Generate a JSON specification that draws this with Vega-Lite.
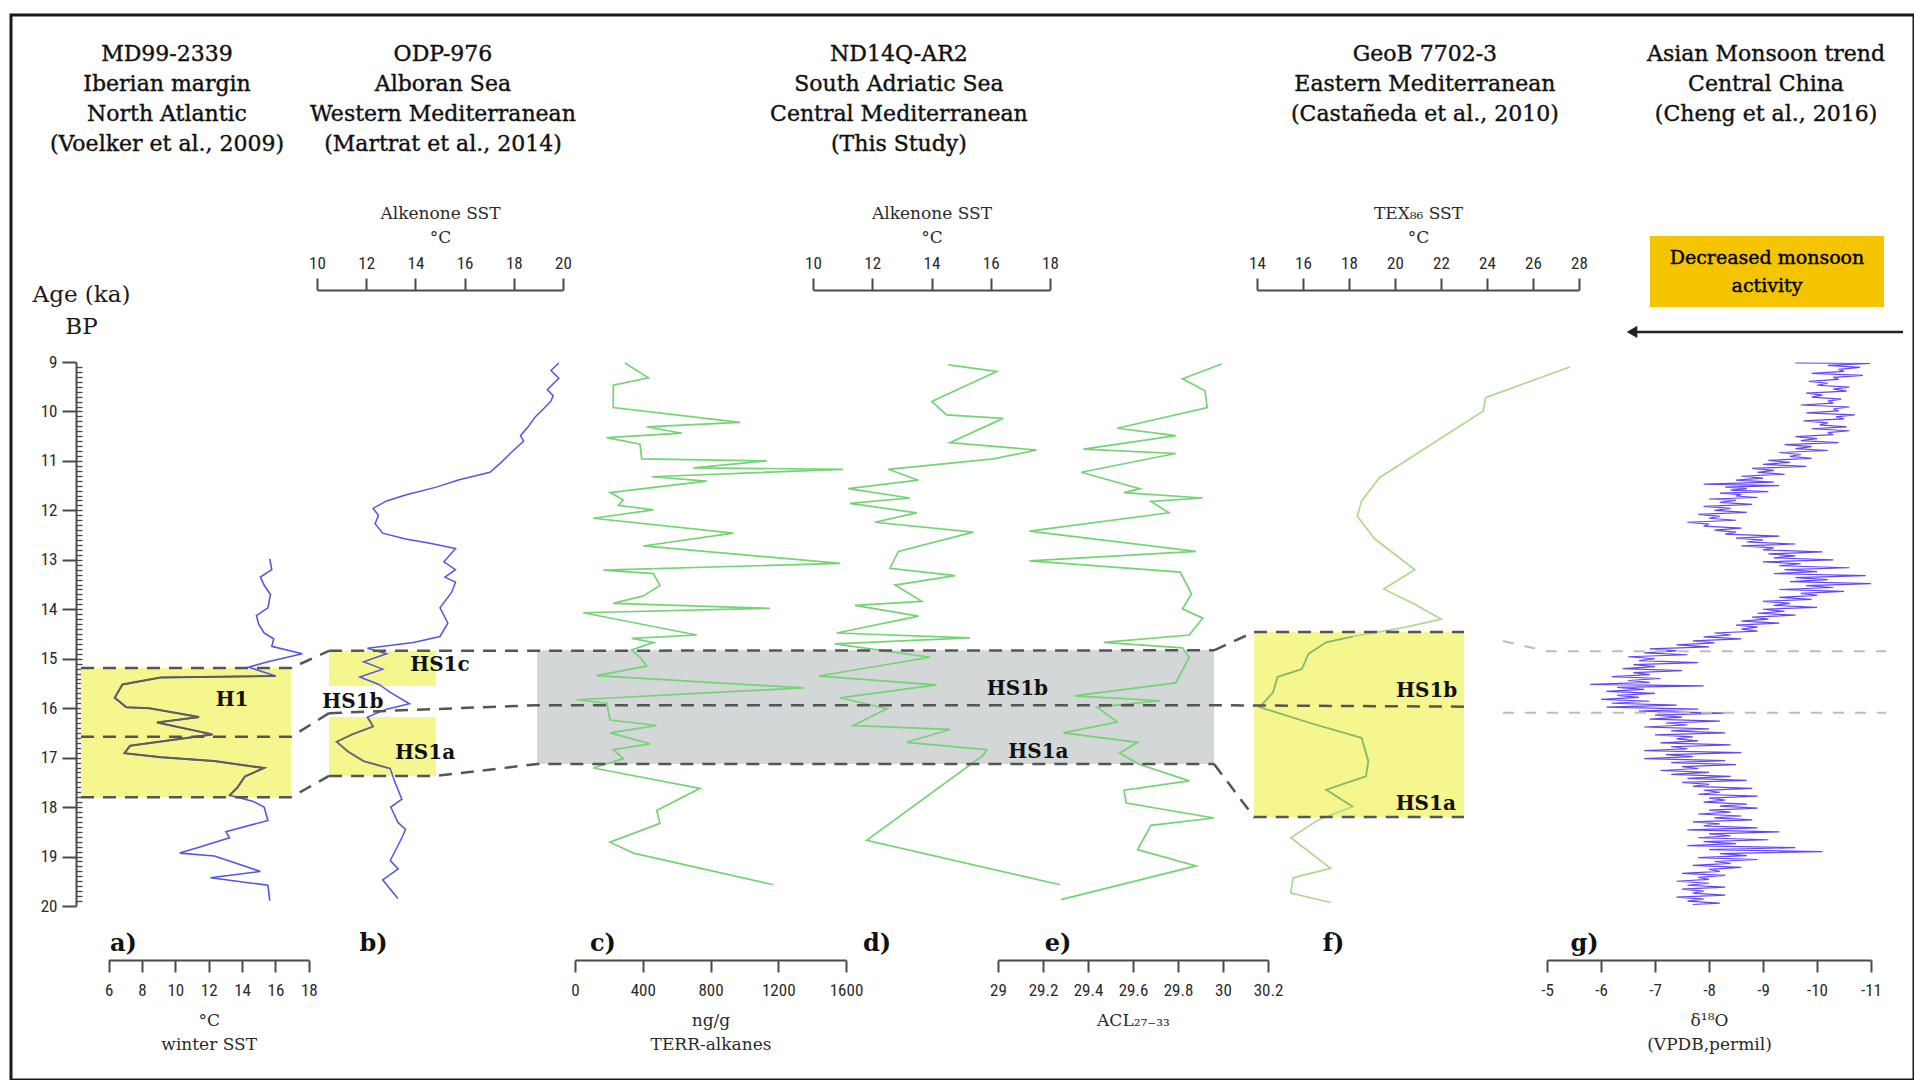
{
"$schema": "https://vega.github.io/schema/vega-lite/v6.json",
"width": 1903, "height": 1065,
"autosize": {"type": "none"},
"padding": {"left": 11, "top": 15, "right": 0, "bottom": 0},
"background": "white",
"config": {
  "view": {"stroke": "#1a1a1a", "strokeWidth": 3},
  "axis": {"domainColor": "#4a4a4a", "domainWidth": 2, "tickColor": "#4a4a4a", "tickWidth": 2, "tickSize": 12,
    "labelFont": "Liberation Sans Narrow, Roboto Condensed, Roboto, sans-serif", "labelFontSize": 17, "labelColor": "#2a2a2a", "labelPadding": 10,
    "labelFlush": false, "labelOverlap": false, "labelBound": false,
    "titleFont": "DejaVu Serif", "titleFontSize": 17, "titleFontWeight": "normal", "titleColor": "#2a2a2a", "titlePadding": 14, "titleLineHeight": 24, "grid": false},
  "axisTop": {"labelPadding": 6, "titlePadding": 8}
},
"datasets": {
  "boxA": [{"v": 4.345, "v2": 16.935, "age": 15.19, "age2": 17.8}],
  "boxB": [{"v": 10.488, "v2": 14.837, "age": 14.84, "age2": 15.55}, {"v": 10.488, "v2": 14.837, "age": 16.18, "age2": 17.37}],
  "boxC": [{"v": -224, "v2": 3773, "age": 14.83, "age2": 17.13}],
  "boxF": [{"v": 13.87, "v2": 23.0, "age": 14.46, "age2": 18.2}],
  "boxG": [{"v": -6.907, "v2": -11.241, "age": 6.452, "age2": 7.888}],
  "sstA": [{"v":15.66,"age":12.98},{"v":15.78,"age":13.2},{"v":15.1,"age":13.35},{"v":15.32,"age":13.51},{"v":15.7,"age":13.7},{"v":15.55,"age":13.97},{"v":14.86,"age":14.13},{"v":15.0,"age":14.3},{"v":15.32,"age":14.48},{"v":15.9,"age":14.6},{"v":15.78,"age":14.75},{"v":17.61,"age":14.9},{"v":15.55,"age":15.06},{"v":14.4,"age":15.17},{"v":16.01,"age":15.35},{"v":9.12,"age":15.38},{"v":6.83,"age":15.52},{"v":6.37,"age":15.79},{"v":7.06,"age":15.98},{"v":8.44,"age":16.0},{"v":11.42,"age":16.18},{"v":8.9,"age":16.29},{"v":12.22,"age":16.53},{"v":7.29,"age":16.76},{"v":6.95,"age":16.91},{"v":9.12,"age":16.99},{"v":12.34,"age":17.07},{"v":15.32,"age":17.21},{"v":14.17,"age":17.38},{"v":13.71,"age":17.61},{"v":13.25,"age":17.76},{"v":14.63,"age":17.88},{"v":15.32,"age":18.0},{"v":15.55,"age":18.27},{"v":13.03,"age":18.5},{"v":13.25,"age":18.62},{"v":11.42,"age":18.81},{"v":10.27,"age":18.93},{"v":12.34,"age":18.99},{"v":15.09,"age":19.3},{"v":12.11,"age":19.43},{"v":15.55,"age":19.58},{"v":15.66,"age":19.89}],
  "sstB": [{"v":19.83,"age":9.02},{"v":19.51,"age":9.17},{"v":19.83,"age":9.33},{"v":19.36,"age":9.56},{"v":19.6,"age":9.68},{"v":19.51,"age":9.79},{"v":19.2,"age":9.95},{"v":18.89,"age":10.1},{"v":18.6,"age":10.3},{"v":18.27,"age":10.49},{"v":18.4,"age":10.6},{"v":17.96,"age":10.8},{"v":17.49,"age":11.03},{"v":17.03,"age":11.23},{"v":15.78,"age":11.38},{"v":14.85,"age":11.53},{"v":13.6,"age":11.69},{"v":12.83,"age":11.81},{"v":12.28,"age":11.96},{"v":12.5,"age":12.1},{"v":12.36,"age":12.27},{"v":12.67,"age":12.46},{"v":13.6,"age":12.58},{"v":14.54,"age":12.66},{"v":15.63,"age":12.77},{"v":15.16,"age":13.04},{"v":15.63,"age":13.2},{"v":15.2,"age":13.35},{"v":15.63,"age":13.45},{"v":15.47,"age":13.66},{"v":15.0,"age":13.97},{"v":15.32,"age":14.28},{"v":15.0,"age":14.55},{"v":13.92,"age":14.67},{"v":12.05,"age":14.79},{"v":12.83,"age":14.9},{"v":11.89,"age":15.06},{"v":12.67,"age":15.21},{"v":11.74,"age":15.37},{"v":12.52,"age":15.52},{"v":12.98,"age":15.68},{"v":13.76,"age":15.91},{"v":12.83,"age":16.02},{"v":12.05,"age":16.18},{"v":12.28,"age":16.37},{"v":11.43,"age":16.53},{"v":10.8,"age":16.68},{"v":11.27,"age":16.88},{"v":11.89,"age":17.07},{"v":12.98,"age":17.22},{"v":13.14,"age":17.46},{"v":13.45,"age":17.84},{"v":13.0,"age":18.0},{"v":13.29,"age":18.31},{"v":13.6,"age":18.45},{"v":13.45,"age":18.62},{"v":12.98,"age":19.08},{"v":13.3,"age":19.25},{"v":12.67,"age":19.47},{"v":13.29,"age":19.85}],
  "terrC": [{"v":295,"age":9.02},{"v":433,"age":9.32},{"v":226,"age":9.47},{"v":226,"age":9.92},{"v":974,"age":10.22},{"v":423,"age":10.31},{"v":630,"age":10.44},{"v":187,"age":10.53},{"v":384,"age":10.66},{"v":394,"age":10.96},{"v":1132,"age":11.0},{"v":699,"age":11.14},{"v":1584,"age":11.17},{"v":453,"age":11.32},{"v":777,"age":11.41},{"v":207,"age":11.64},{"v":285,"age":11.79},{"v":256,"age":11.9},{"v":463,"age":11.99},{"v":108,"age":12.16},{"v":935,"age":12.46},{"v":403,"age":12.72},{"v":1565,"age":13.07},{"v":167,"age":13.21},{"v":463,"age":13.28},{"v":502,"age":13.52},{"v":403,"age":13.73},{"v":226,"age":13.88},{"v":1151,"age":13.98},{"v":49,"age":14.07},{"v":718,"age":14.52},{"v":335,"age":14.59},{"v":463,"age":14.67},{"v":335,"age":14.82},{"v":384,"age":14.97},{"v":423,"age":15.15},{"v":128,"age":15.34},{"v":1348,"age":15.59},{"v":10,"age":15.83},{"v":187,"age":15.9},{"v":207,"age":16.24},{"v":482,"age":16.35},{"v":207,"age":16.5},{"v":443,"age":16.72},{"v":226,"age":16.84},{"v":285,"age":17.02},{"v":108,"age":17.21},{"v":738,"age":17.62},{"v":482,"age":18.07},{"v":502,"age":18.33},{"v":207,"age":18.71},{"v":344,"age":18.93},{"v":1171,"age":19.57}],
  "sstD": [{"v":14.57,"age":9.06},{"v":16.2,"age":9.19},{"v":14.01,"age":9.8},{"v":14.51,"age":10.07},{"v":16.42,"age":10.14},{"v":14.62,"age":10.63},{"v":17.55,"age":10.78},{"v":16.09,"age":10.96},{"v":12.54,"age":11.17},{"v":13.56,"age":11.39},{"v":11.19,"age":11.56},{"v":13.27,"age":11.75},{"v":11.25,"age":11.86},{"v":13.5,"age":12.05},{"v":12.09,"age":12.24},{"v":15.41,"age":12.44},{"v":12.88,"age":12.83},{"v":12.6,"age":13.17},{"v":14.79,"age":13.32},{"v":12.77,"age":13.51},{"v":13.67,"age":13.84},{"v":11.42,"age":13.92},{"v":13.56,"age":14.14},{"v":10.8,"age":14.48},{"v":15.3,"age":14.58},{"v":10.74,"age":14.7},{"v":13.95,"age":14.97},{"v":10.2,"age":15.35},{"v":14.17,"age":15.53},{"v":10.91,"age":15.79},{"v":12.49,"age":16.01},{"v":11.36,"age":16.35},{"v":14.62,"age":16.43},{"v":13.16,"age":16.69},{"v":15.86,"age":16.84},{"v":15.75,"age":16.95},{"v":11.81,"age":18.67},{"v":18.34,"age":19.57}],
  "aclE": [{"v":29.994,"age":9.04},{"v":29.82,"age":9.34},{"v":29.92,"age":9.58},{"v":29.93,"age":9.92},{"v":29.53,"age":10.34},{"v":29.79,"age":10.49},{"v":29.38,"age":10.76},{"v":29.79,"age":10.85},{"v":29.37,"age":11.23},{"v":29.63,"age":11.56},{"v":29.56,"age":11.64},{"v":29.91,"age":11.75},{"v":29.68,"age":11.82},{"v":29.76,"age":12.05},{"v":29.14,"age":12.42},{"v":29.88,"age":12.83},{"v":29.14,"age":13.02},{"v":29.81,"age":13.25},{"v":29.86,"age":13.69},{"v":29.82,"age":13.99},{"v":29.91,"age":14.18},{"v":29.85,"age":14.52},{"v":29.47,"age":14.67},{"v":29.82,"age":14.78},{"v":29.85,"age":14.97},{"v":29.79,"age":15.49},{"v":29.34,"age":15.75},{"v":29.72,"age":15.85},{"v":29.44,"age":15.98},{"v":29.53,"age":16.28},{"v":29.29,"age":16.5},{"v":29.62,"age":16.69},{"v":29.54,"age":16.91},{"v":29.63,"age":17.14},{"v":29.85,"age":17.47},{"v":29.56,"age":17.66},{"v":29.57,"age":17.92},{"v":29.96,"age":18.22},{"v":29.68,"age":18.37},{"v":29.62,"age":18.86},{"v":29.88,"age":19.19},{"v":29.28,"age":19.87}],
  "texF": [{"v":27.6,"age":9.1},{"v":23.94,"age":9.72},{"v":23.84,"age":9.99},{"v":20.86,"age":10.88},{"v":19.32,"age":11.34},{"v":18.55,"age":11.81},{"v":18.36,"age":12.12},{"v":19.13,"age":12.58},{"v":20.86,"age":13.2},{"v":19.51,"age":13.59},{"v":20.86,"age":13.9},{"v":22.01,"age":14.2},{"v":20.47,"age":14.36},{"v":18.16,"age":14.55},{"v":17.01,"age":14.67},{"v":16.24,"age":14.9},{"v":15.95,"age":15.21},{"v":14.89,"age":15.37},{"v":14.7,"age":15.68},{"v":14.12,"age":15.98},{"v":16.24,"age":16.29},{"v":18.55,"age":16.6},{"v":18.84,"age":17.07},{"v":18.74,"age":17.38},{"v":17.01,"age":17.65},{"v":18.16,"age":17.99},{"v":16.62,"age":18.27},{"v":15.47,"age":18.62},{"v":17.2,"age":19.24},{"v":15.57,"age":19.43},{"v":15.47,"age":19.74},{"v":17.2,"age":19.93}],
  "d18G": [{"age":9.02,"v":-9.6},{"age":9.03,"v":-10.98},{"age":9.07,"v":-10.2},{"age":9.11,"v":-10.8},{"age":9.15,"v":-10.4},{"age":9.19,"v":-10.5},{"age":9.23,"v":-9.9},{"age":9.27,"v":-10.85},{"age":9.31,"v":-10.3},{"age":9.35,"v":-10.4},{"age":9.39,"v":-9.85},{"age":9.43,"v":-10.2},{"age":9.47,"v":-10.0},{"age":9.51,"v":-10.6},{"age":9.55,"v":-10.3},{"age":9.59,"v":-10.55},{"age":9.63,"v":-9.8},{"age":9.67,"v":-10.1},{"age":9.71,"v":-9.9},{"age":9.75,"v":-10.45},{"age":9.79,"v":-10.2},{"age":9.83,"v":-10.3},{"age":9.87,"v":-9.7},{"age":9.91,"v":-10.6},{"age":9.95,"v":-10.3},{"age":9.99,"v":-10.4},{"age":10.03,"v":-9.8},{"age":10.07,"v":-10.7},{"age":10.11,"v":-10.35},{"age":10.15,"v":-10.5},{"age":10.19,"v":-9.75},{"age":10.23,"v":-10.2},{"age":10.27,"v":-10.05},{"age":10.31,"v":-10.55},{"age":10.35,"v":-9.9},{"age":10.39,"v":-10.6},{"age":10.43,"v":-10.2},{"age":10.47,"v":-10.3},{"age":10.51,"v":-9.6},{"age":10.55,"v":-10.0},{"age":10.59,"v":-9.7},{"age":10.63,"v":-10.4},{"age":10.67,"v":-9.4},{"age":10.71,"v":-9.9},{"age":10.75,"v":-9.6},{"age":10.79,"v":-10.2},{"age":10.83,"v":-9.3},{"age":10.87,"v":-9.7},{"age":10.91,"v":-9.5},{"age":10.95,"v":-9.9},{"age":10.99,"v":-9.1},{"age":11.03,"v":-9.5},{"age":11.07,"v":-9.0},{"age":11.11,"v":-9.8},{"age":11.15,"v":-8.8},{"age":11.19,"v":-9.2},{"age":11.23,"v":-8.9},{"age":11.27,"v":-9.4},{"age":11.31,"v":-8.6},{"age":11.35,"v":-9.0},{"age":11.39,"v":-8.5},{"age":11.43,"v":-9.2},{"age":11.47,"v":-7.9},{"age":11.5,"v":-9.3},{"age":11.53,"v":-8.3},{"age":11.56,"v":-8.7},{"age":11.59,"v":-8.4},{"age":11.62,"v":-9.1},{"age":11.65,"v":-8.2},{"age":11.68,"v":-8.6},{"age":11.71,"v":-8.5},{"age":11.74,"v":-8.9},{"age":11.77,"v":-8.0},{"age":11.8,"v":-8.5},{"age":11.84,"v":-8.2},{"age":11.88,"v":-8.8},{"age":11.92,"v":-7.9},{"age":11.96,"v":-8.4},{"age":12.0,"v":-8.1},{"age":12.04,"v":-8.7},{"age":12.08,"v":-7.8},{"age":12.12,"v":-8.2},{"age":12.16,"v":-8.0},{"age":12.2,"v":-8.5},{"age":12.24,"v":-7.6},{"age":12.28,"v":-8.0},{"age":12.32,"v":-7.9},{"age":12.36,"v":-8.6},{"age":12.4,"v":-8.1},{"age":12.44,"v":-8.5},{"age":12.48,"v":-8.3},{"age":12.52,"v":-9.3},{"age":12.56,"v":-8.5},{"age":12.6,"v":-9.0},{"age":12.64,"v":-8.7},{"age":12.68,"v":-9.6},{"age":12.72,"v":-8.6},{"age":12.76,"v":-9.2},{"age":12.8,"v":-9.0},{"age":12.84,"v":-10.1},{"age":12.88,"v":-9.1},{"age":12.92,"v":-9.6},{"age":12.96,"v":-9.2},{"age":13.0,"v":-10.3},{"age":13.04,"v":-9.0},{"age":13.08,"v":-9.7},{"age":13.12,"v":-9.3},{"age":13.16,"v":-10.6},{"age":13.2,"v":-9.4},{"age":13.24,"v":-10.0},{"age":13.28,"v":-9.2},{"age":13.32,"v":-10.9},{"age":13.36,"v":-9.6},{"age":13.4,"v":-10.2},{"age":13.44,"v":-9.5},{"age":13.48,"v":-11.0},{"age":13.52,"v":-9.8},{"age":13.56,"v":-10.3},{"age":13.6,"v":-9.3},{"age":13.64,"v":-10.5},{"age":13.68,"v":-9.7},{"age":13.72,"v":-10.0},{"age":13.76,"v":-9.3},{"age":13.8,"v":-9.9},{"age":13.84,"v":-9.0},{"age":13.88,"v":-9.5},{"age":13.92,"v":-9.2},{"age":13.96,"v":-10.0},{"age":14.0,"v":-9.0},{"age":14.04,"v":-9.4},{"age":14.08,"v":-8.9},{"age":14.12,"v":-9.6},{"age":14.16,"v":-8.8},{"age":14.2,"v":-9.1},{"age":14.24,"v":-8.6},{"age":14.28,"v":-9.3},{"age":14.32,"v":-8.5},{"age":14.36,"v":-8.9},{"age":14.4,"v":-8.6},{"age":14.44,"v":-8.9},{"age":14.48,"v":-8.1},{"age":14.52,"v":-8.4},{"age":14.56,"v":-7.9},{"age":14.6,"v":-8.6},{"age":14.64,"v":-7.7},{"age":14.68,"v":-8.1},{"age":14.72,"v":-7.4},{"age":14.76,"v":-8.0},{"age":14.8,"v":-6.9},{"age":14.84,"v":-7.4},{"age":14.88,"v":-6.8},{"age":14.92,"v":-7.6},{"age":14.96,"v":-6.5},{"age":15.0,"v":-7.0},{"age":15.04,"v":-6.7},{"age":15.08,"v":-7.8},{"age":15.12,"v":-6.6},{"age":15.16,"v":-7.0},{"age":15.2,"v":-6.4},{"age":15.24,"v":-7.5},{"age":15.28,"v":-6.6},{"age":15.32,"v":-6.9},{"age":15.36,"v":-6.2},{"age":15.4,"v":-7.1},{"age":15.44,"v":-6.5},{"age":15.48,"v":-6.9},{"age":15.52,"v":-5.8},{"age":15.55,"v":-7.9},{"age":15.58,"v":-6.3},{"age":15.62,"v":-6.8},{"age":15.66,"v":-6.1},{"age":15.7,"v":-7.0},{"age":15.74,"v":-6.3},{"age":15.78,"v":-6.7},{"age":15.82,"v":-6.0},{"age":15.86,"v":-6.9},{"age":15.9,"v":-6.2},{"age":15.94,"v":-7.4},{"age":15.98,"v":-6.1},{"age":16.02,"v":-7.8},{"age":16.06,"v":-6.7},{"age":16.1,"v":-8.3},{"age":16.14,"v":-7.0},{"age":16.18,"v":-7.5},{"age":16.22,"v":-6.9},{"age":16.26,"v":-8.2},{"age":16.3,"v":-7.2},{"age":16.34,"v":-7.6},{"age":16.38,"v":-6.8},{"age":16.42,"v":-8.0},{"age":16.46,"v":-7.3},{"age":16.5,"v":-8.3},{"age":16.54,"v":-7.0},{"age":16.58,"v":-7.7},{"age":16.62,"v":-7.4},{"age":16.66,"v":-7.8},{"age":16.7,"v":-7.1},{"age":16.74,"v":-8.4},{"age":16.78,"v":-7.3},{"age":16.82,"v":-7.6},{"age":16.86,"v":-6.8},{"age":16.9,"v":-8.6},{"age":16.94,"v":-7.2},{"age":16.98,"v":-7.7},{"age":17.02,"v":-6.8},{"age":17.06,"v":-8.3},{"age":17.1,"v":-7.3},{"age":17.14,"v":-8.5},{"age":17.18,"v":-7.5},{"age":17.22,"v":-7.8},{"age":17.26,"v":-7.1},{"age":17.3,"v":-8.0},{"age":17.34,"v":-7.3},{"age":17.38,"v":-8.4},{"age":17.42,"v":-7.6},{"age":17.46,"v":-8.7},{"age":17.5,"v":-7.5},{"age":17.54,"v":-8.0},{"age":17.58,"v":-7.7},{"age":17.62,"v":-8.8},{"age":17.66,"v":-7.9},{"age":17.7,"v":-8.2},{"age":17.74,"v":-7.8},{"age":17.78,"v":-8.9},{"age":17.82,"v":-8.0},{"age":17.86,"v":-8.3},{"age":17.9,"v":-7.9},{"age":17.94,"v":-8.7},{"age":17.98,"v":-8.2},{"age":18.02,"v":-8.9},{"age":18.06,"v":-8.0},{"age":18.1,"v":-8.4},{"age":18.14,"v":-7.8},{"age":18.18,"v":-8.6},{"age":18.22,"v":-8.1},{"age":18.26,"v":-8.8},{"age":18.3,"v":-7.7},{"age":18.34,"v":-8.2},{"age":18.38,"v":-7.9},{"age":18.42,"v":-8.9},{"age":18.46,"v":-7.6},{"age":18.5,"v":-9.3},{"age":18.54,"v":-8.0},{"age":18.58,"v":-8.4},{"age":18.62,"v":-7.8},{"age":18.66,"v":-9.1},{"age":18.7,"v":-7.9},{"age":18.74,"v":-8.5},{"age":18.78,"v":-7.6},{"age":18.82,"v":-9.6},{"age":18.86,"v":-8.0},{"age":18.9,"v":-10.1},{"age":18.94,"v":-8.2},{"age":18.98,"v":-8.7},{"age":19.02,"v":-7.8},{"age":19.06,"v":-8.9},{"age":19.1,"v":-8.1},{"age":19.14,"v":-8.4},{"age":19.18,"v":-7.7},{"age":19.22,"v":-8.6},{"age":19.26,"v":-8.0},{"age":19.3,"v":-8.2},{"age":19.34,"v":-7.5},{"age":19.38,"v":-8.3},{"age":19.42,"v":-7.8},{"age":19.46,"v":-8.0},{"age":19.5,"v":-7.4},{"age":19.54,"v":-8.0},{"age":19.58,"v":-7.6},{"age":19.62,"v":-8.3},{"age":19.66,"v":-7.5},{"age":19.7,"v":-7.9},{"age":19.74,"v":-7.7},{"age":19.78,"v":-8.3},{"age":19.82,"v":-7.4},{"age":19.86,"v":-7.9},{"age":19.9,"v":-7.6},{"age":19.94,"v":-8.2},{"age":19.97,"v":-7.7}],
  "dashA": [{"seg":"top","v":4.345,"age":15.19},{"seg":"top","v":16.935,"age":15.19},{"seg":"top","v":19.213,"age":14.84},{"seg":"mid","v":4.345,"age":16.58},{"seg":"mid","v":16.935,"age":16.58},{"seg":"mid","v":19.213,"age":16.1},{"seg":"bot","v":4.345,"age":17.8},{"seg":"bot","v":16.935,"age":17.8},{"seg":"bot","v":19.213,"age":17.37}],
  "dashC": [{"seg":"top","v":-1452,"age":14.84},{"seg":"top","v":3773,"age":14.83},{"seg":"mid","v":-1452,"age":16.1},{"seg":"mid","v":-224,"age":15.94},{"seg":"mid","v":3773,"age":15.94},{"seg":"mid","v":5249,"age":15.97},{"seg":"bot","v":-1452,"age":17.37},{"seg":"bot","v":-821,"age":17.37},{"seg":"bot","v":-224,"age":17.13},{"seg":"bot","v":3773,"age":17.13},{"seg":"ftop","v":3773,"age":14.83},{"seg":"ftop","v":4009,"age":14.46},{"seg":"ftop","v":5249,"age":14.46},{"seg":"fbot","v":3773,"age":17.13},{"seg":"fbot","v":4009,"age":18.2},{"seg":"fbot","v":5249,"age":18.2}],
  "dashG": [{"seg":"up","v":-4.185,"age":14.64},{"seg":"up","v":-5.0,"age":14.85},{"seg":"up","v":-11.278,"age":14.85},{"seg":"lo","v":-4.185,"age":16.09},{"seg":"lo","v":-11.278,"age":16.09}],
  "arrowG": [{"v":-6.648,"v2":-11.593,"age":8.393}],
  "arrowHead": [{"v":-6.574,"age":8.393}],
  "hdrA": [{"label":"MD99-2339\nIberian margin\nNorth Atlantic\n(Voelker et al., 2009)","v":9.5,"age":2.575}],
  "hdrB": [{"label":"ODP-976\nAlboran Sea\nWestern Mediterranean\n(Martrat et al., 2014)","v":15.12,"age":2.575}],
  "hdrD": [{"label":"ND14Q-AR2\nSouth Adriatic Sea\nCentral Mediterranean\n(This Study)","v":12.9,"age":2.575}],
  "hdrF": [{"label":"GeoB 7702-3\nEastern Mediterranean\n(Castañeda et al., 2010)","v":21.3,"age":2.575}],
  "hdrG": [{"label":"Asian Monsoon trend\nCentral China\n(Cheng et al., 2016)","v":-9.056,"age":2.575}],
  "hsA": [{"label":"H1","v":13.4,"age":15.83}],
  "hsB": [{"label":"HS1c","v":15.0,"age":15.13},{"label":"HS1b","v":11.46,"age":15.87},{"label":"HS1a","v":14.39,"age":16.91}],
  "hsD": [{"label":"HS1b","v":16.9,"age":15.62},{"label":"HS1a","v":17.61,"age":16.89}],
  "hsF": [{"label":"HS1b","v":21.38,"age":15.65},{"label":"HS1a","v":21.34,"age":17.93}],
  "letA": [{"label":"a)","v":6.89,"age":20.77}],
  "letB": [{"label":"b)","v":12.3,"age":20.77}],
  "letC": [{"label":"c)","v":165,"age":20.77}],
  "letD": [{"label":"d)","v":12.16,"age":20.77}],
  "letE": [{"label":"e)","v":29.267,"age":20.77}],
  "letF": [{"label":"f)","v":17.33,"age":20.77}],
  "letG": [{"label":"g)","v":-5.694,"age":20.77}],
  "goldTxt": [{"label":"Decreased monsoon\nactivity","v":-9.074,"age":6.715}]
},
"encoding": {"y": {"field": "age", "type": "quantitative", "scale": {"domain": [9, 20], "range": [347, 891], "nice": false, "zero": false}, "axis": null}},
"resolve": {"scale": {"x": "independent"}, "axis": {"x": "independent", "y": "independent"}},
"layer": [
  {"data": {"name": "boxA"}, "mark": {"type": "rect", "fill": "#f6f68f"},
   "encoding": {"x": {"field": "v", "type": "quantitative", "scale": {"domain": [6, 18], "range": [97.6, 297.8], "nice": false, "zero": false}, "axis": null}, "x2": {"field": "v2"}, "y2": {"field": "age2"}}},
  {"data": {"name": "boxB"}, "mark": {"type": "rect", "fill": "#f6f68f"},
   "encoding": {"x": {"field": "v", "type": "quantitative", "scale": {"domain": [10, 20], "range": [306, 552], "nice": false, "zero": false}, "axis": null}, "x2": {"field": "v2"},
     "y": {"field": "age", "type": "quantitative", "scale": {"domain": [9, 20], "range": [347, 891], "nice": false, "zero": false},
       "axis": {"orient": "right", "offset": -1838, "domain": false, "labels": false, "title": null, "tickSize": 6, "tickWidth": 1.3, "tickColor": "#444",
         "values": [9.1,9.2,9.3,9.4,9.5,9.6,9.7,9.8,9.9,10,10.1,10.2,10.3,10.4,10.5,10.6,10.7,10.8,10.9,11,11.1,11.2,11.3,11.4,11.5,11.6,11.7,11.8,11.9,12,12.1,12.2,12.3,12.4,12.5,12.6,12.7,12.8,12.9,13,13.1,13.2,13.3,13.4,13.5,13.6,13.7,13.8,13.9,14,14.1,14.2,14.3,14.4,14.5,14.6,14.7,14.8,14.9,15,15.1,15.2,15.3,15.4,15.5,15.6,15.7,15.8,15.9,16,16.1,16.2,16.3,16.4,16.5,16.6,16.7,16.8,16.9,17,17.1,17.2,17.3,17.4,17.5,17.6,17.7,17.8,17.9,18,18.1,18.2,18.3,18.4,18.5,18.6,18.7,18.8,18.9,19,19.1,19.2,19.3,19.4,19.5,19.6,19.7,19.8,19.9]}},
     "y2": {"field": "age2"}}},
  {"data": {"name": "boxC"}, "mark": {"type": "rect", "fill": "#d3d7d7"},
   "encoding": {"x": {"field": "v", "type": "quantitative", "scale": {"domain": [0, 1600], "range": [564, 835], "nice": false, "zero": false}, "axis": null}, "x2": {"field": "v2"}, "y2": {"field": "age2"}}},
  {"data": {"name": "boxF"}, "mark": {"type": "rect", "fill": "#f6f68f"},
   "encoding": {"x": {"field": "v", "type": "quantitative", "scale": {"domain": [14, 28], "range": [1246, 1568], "nice": false, "zero": false}, "axis": null}, "x2": {"field": "v2"}, "y2": {"field": "age2"}}},
  {"data": {"name": "boxG"}, "mark": {"type": "rect", "fill": "#f5c400"},
   "encoding": {"x": {"field": "v", "type": "quantitative", "scale": {"domain": [-5, -11], "range": [1536, 1860], "nice": false, "zero": false}, "axis": null}, "x2": {"field": "v2"}, "y2": {"field": "age2"}}},

  {"data": {"name": "sstA"}, "mark": {"type": "line", "color": "#5656e0", "strokeWidth": 1.6},
   "encoding": {"x": {"field": "v", "type": "quantitative", "scale": {"domain": [6, 18], "range": [97.6, 297.8], "nice": false, "zero": false},
       "axis": {"orient": "bottom", "offset": -120, "values": [6, 8, 10, 12, 14, 16, 18], "title": ["°C", "winter SST"]}},
     "y": {"field": "age", "type": "quantitative", "scale": {"domain": [9, 20], "range": [347, 891], "nice": false, "zero": false},
       "axis": {"orient": "left", "offset": -65, "values": [9, 10, 11, 12, 13, 14, 15, 16, 17, 18, 19, 20], "format": "d", "tickSize": 14, "labelPadding": 5,
         "title": ["Age (ka)", "BP"], "titleAngle": 0, "titleAlign": "center", "titleBaseline": "top", "titleX": 5, "titleY": 268,
         "titleFont": "DejaVu Serif", "titleFontSize": 23, "titleLineHeight": 32, "titleColor": "#1a1a1a"}},
     "order": {"field": "age", "type": "quantitative"}}},
  {"data": {"name": "sstA"}, "transform": [{"filter": {"field": "age", "range": [15.19, 17.8]}}],
   "mark": {"type": "line", "color": "#5e5e5e", "strokeWidth": 2},
   "encoding": {"x": {"field": "v", "type": "quantitative", "scale": {"domain": [6, 18], "range": [97.6, 297.8], "nice": false, "zero": false}, "axis": null},
     "order": {"field": "age", "type": "quantitative"}}},
  {"data": {"name": "sstB"}, "mark": {"type": "line", "color": "#5656e0", "strokeWidth": 1.5},
   "encoding": {"x": {"field": "v", "type": "quantitative", "scale": {"domain": [10, 20], "range": [306, 552], "nice": false, "zero": false},
       "axis": {"orient": "top", "offset": -275, "values": [10, 12, 14, 16, 18, 20], "title": ["Alkenone SST", "°C"]}},
     "order": {"field": "age", "type": "quantitative"}}},
  {"data": {"name": "sstB"}, "transform": [{"filter": {"field": "age", "range": [16.18, 17.37]}}],
   "mark": {"type": "line", "color": "#6d6d6d", "strokeWidth": 1.8},
   "encoding": {"x": {"field": "v", "type": "quantitative", "scale": {"domain": [10, 20], "range": [306, 552], "nice": false, "zero": false}, "axis": null},
     "order": {"field": "age", "type": "quantitative"}}},
  {"data": {"name": "terrC"}, "mark": {"type": "line", "color": "#74d374", "strokeWidth": 1.7},
   "encoding": {"x": {"field": "v", "type": "quantitative", "scale": {"domain": [0, 1600], "range": [564, 835], "nice": false, "zero": false},
       "axis": {"orient": "bottom", "offset": -120, "values": [0, 400, 800, 1200, 1600], "format": "d", "title": ["ng/g", "TERR-alkanes"]}},
     "order": {"field": "age", "type": "quantitative"}}},
  {"data": {"name": "sstD"}, "mark": {"type": "line", "color": "#74d374", "strokeWidth": 1.7},
   "encoding": {"x": {"field": "v", "type": "quantitative", "scale": {"domain": [10, 18], "range": [802, 1039], "nice": false, "zero": false},
       "axis": {"orient": "top", "offset": -275, "values": [10, 12, 14, 16, 18], "title": ["Alkenone SST", "°C"]}},
     "order": {"field": "age", "type": "quantitative"}}},
  {"data": {"name": "aclE"}, "mark": {"type": "line", "color": "#74d374", "strokeWidth": 1.7},
   "encoding": {"x": {"field": "v", "type": "quantitative", "scale": {"domain": [29, 30.2], "range": [987, 1257], "nice": false, "zero": false},
       "axis": {"orient": "bottom", "offset": -120, "values": [29, 29.2, 29.4, 29.6, 29.8, 30, 30.2], "format": "~g", "title": "ACL₂₇₋₃₃"}},
     "order": {"field": "age", "type": "quantitative"}}},
  {"data": {"name": "texF"}, "mark": {"type": "line", "color": "#afd98f", "strokeWidth": 1.7},
   "encoding": {"x": {"field": "v", "type": "quantitative", "scale": {"domain": [14, 28], "range": [1246, 1568], "nice": false, "zero": false},
       "axis": {"orient": "top", "offset": -275, "values": [14, 16, 18, 20, 22, 24, 26, 28], "title": ["TEX₈₆ SST", "°C"]}},
     "order": {"field": "age", "type": "quantitative"}}},
  {"data": {"name": "texF"}, "transform": [{"filter": {"field": "age", "range": [14.46, 18.2]}}],
   "mark": {"type": "line", "color": "#8ab865", "strokeWidth": 1.7},
   "encoding": {"x": {"field": "v", "type": "quantitative", "scale": {"domain": [14, 28], "range": [1246, 1568], "nice": false, "zero": false}, "axis": null},
     "order": {"field": "age", "type": "quantitative"}}},
  {"data": {"name": "d18G"}, "mark": {"type": "line", "color": "#6247f2", "strokeWidth": 1.2},
   "encoding": {"x": {"field": "v", "type": "quantitative", "scale": {"domain": [-5, -11], "range": [1536, 1860], "nice": false, "zero": false},
       "axis": {"orient": "bottom", "offset": -120, "values": [-5, -6, -7, -8, -9, -10, -11], "labelExpr": "'-' + abs(datum.value)", "title": ["δ¹⁸O", "(VPDB,permil)"]}},
     "order": {"field": "age", "type": "quantitative"}}},

  {"data": {"name": "dashA"}, "mark": {"type": "line", "color": "#555", "strokeWidth": 2.5, "strokeDash": [13, 9]},
   "encoding": {"x": {"field": "v", "type": "quantitative", "scale": {"domain": [6, 18], "range": [97.6, 297.8], "nice": false, "zero": false}, "axis": null},
     "detail": {"field": "seg"}, "order": {"field": "v", "type": "quantitative"}}},
  {"data": {"name": "dashC"}, "mark": {"type": "line", "color": "#555", "strokeWidth": 2.5, "strokeDash": [13, 9]},
   "encoding": {"x": {"field": "v", "type": "quantitative", "scale": {"domain": [0, 1600], "range": [564, 835], "nice": false, "zero": false}, "axis": null},
     "detail": {"field": "seg"}, "order": {"field": "v", "type": "quantitative"}}},
  {"data": {"name": "dashG"}, "mark": {"type": "line", "color": "#bdbdbd", "strokeWidth": 2, "strokeDash": [11, 11]},
   "encoding": {"x": {"field": "v", "type": "quantitative", "scale": {"domain": [-5, -11], "range": [1536, 1860], "nice": false, "zero": false}, "axis": null},
     "detail": {"field": "seg"}, "order": {"field": "v", "type": "quantitative", "sort": "descending"}}},
  {"data": {"name": "arrowG"}, "mark": {"type": "rule", "color": "#222", "strokeWidth": 2.5},
   "encoding": {"x": {"field": "v", "type": "quantitative", "scale": {"domain": [-5, -11], "range": [1536, 1860], "nice": false, "zero": false}, "axis": null}, "x2": {"field": "v2"}}},
  {"data": {"name": "arrowHead"}, "mark": {"type": "point", "shape": "triangle-left", "filled": true, "color": "#222", "size": 150, "opacity": 1},
   "encoding": {"x": {"field": "v", "type": "quantitative", "scale": {"domain": [-5, -11], "range": [1536, 1860], "nice": false, "zero": false}, "axis": null}}},

  {"data": {"name": "hdrA"}, "mark": {"type": "text", "font": "DejaVu Serif", "fontSize": 22, "align": "center", "baseline": "top", "lineBreak": "\n", "lineHeight": 30, "color": "#111", "stroke": "#111", "strokeWidth": 0.4},
   "encoding": {"x": {"field": "v", "type": "quantitative", "scale": {"domain": [6, 18], "range": [97.6, 297.8], "nice": false, "zero": false}, "axis": null}, "text": {"field": "label"}}},
  {"data": {"name": "hdrB"}, "mark": {"type": "text", "font": "DejaVu Serif", "fontSize": 22, "align": "center", "baseline": "top", "lineBreak": "\n", "lineHeight": 30, "color": "#111", "stroke": "#111", "strokeWidth": 0.4},
   "encoding": {"x": {"field": "v", "type": "quantitative", "scale": {"domain": [10, 20], "range": [306, 552], "nice": false, "zero": false}, "axis": null}, "text": {"field": "label"}}},
  {"data": {"name": "hdrD"}, "mark": {"type": "text", "font": "DejaVu Serif", "fontSize": 22, "align": "center", "baseline": "top", "lineBreak": "\n", "lineHeight": 30, "color": "#111", "stroke": "#111", "strokeWidth": 0.4},
   "encoding": {"x": {"field": "v", "type": "quantitative", "scale": {"domain": [10, 18], "range": [802, 1039], "nice": false, "zero": false}, "axis": null}, "text": {"field": "label"}}},
  {"data": {"name": "hdrF"}, "mark": {"type": "text", "font": "DejaVu Serif", "fontSize": 22, "align": "center", "baseline": "top", "lineBreak": "\n", "lineHeight": 30, "color": "#111", "stroke": "#111", "strokeWidth": 0.4},
   "encoding": {"x": {"field": "v", "type": "quantitative", "scale": {"domain": [14, 28], "range": [1246, 1568], "nice": false, "zero": false}, "axis": null}, "text": {"field": "label"}}},
  {"data": {"name": "hdrG"}, "mark": {"type": "text", "font": "DejaVu Serif", "fontSize": 22, "align": "center", "baseline": "top", "lineBreak": "\n", "lineHeight": 30, "color": "#111", "stroke": "#111", "strokeWidth": 0.4},
   "encoding": {"x": {"field": "v", "type": "quantitative", "scale": {"domain": [-5, -11], "range": [1536, 1860], "nice": false, "zero": false}, "axis": null}, "text": {"field": "label"}}},

  {"data": {"name": "hsA"}, "mark": {"type": "text", "font": "DejaVu Serif", "fontSize": 20, "fontWeight": "bold", "align": "center", "baseline": "middle", "color": "#111"},
   "encoding": {"x": {"field": "v", "type": "quantitative", "scale": {"domain": [6, 18], "range": [97.6, 297.8], "nice": false, "zero": false}, "axis": null}, "text": {"field": "label"}}},
  {"data": {"name": "hsB"}, "mark": {"type": "text", "font": "DejaVu Serif", "fontSize": 20, "fontWeight": "bold", "align": "center", "baseline": "middle", "color": "#111"},
   "encoding": {"x": {"field": "v", "type": "quantitative", "scale": {"domain": [10, 20], "range": [306, 552], "nice": false, "zero": false}, "axis": null}, "text": {"field": "label"}}},
  {"data": {"name": "hsD"}, "mark": {"type": "text", "font": "DejaVu Serif", "fontSize": 20, "fontWeight": "bold", "align": "center", "baseline": "middle", "color": "#111"},
   "encoding": {"x": {"field": "v", "type": "quantitative", "scale": {"domain": [10, 18], "range": [802, 1039], "nice": false, "zero": false}, "axis": null}, "text": {"field": "label"}}},
  {"data": {"name": "hsF"}, "mark": {"type": "text", "font": "DejaVu Serif", "fontSize": 20, "fontWeight": "bold", "align": "center", "baseline": "middle", "color": "#111"},
   "encoding": {"x": {"field": "v", "type": "quantitative", "scale": {"domain": [14, 28], "range": [1246, 1568], "nice": false, "zero": false}, "axis": null}, "text": {"field": "label"}}},

  {"data": {"name": "letA"}, "mark": {"type": "text", "font": "DejaVu Serif", "fontSize": 24, "fontWeight": "bold", "align": "center", "baseline": "middle", "color": "#111"},
   "encoding": {"x": {"field": "v", "type": "quantitative", "scale": {"domain": [6, 18], "range": [97.6, 297.8], "nice": false, "zero": false}, "axis": null}, "text": {"field": "label"}}},
  {"data": {"name": "letB"}, "mark": {"type": "text", "font": "DejaVu Serif", "fontSize": 24, "fontWeight": "bold", "align": "center", "baseline": "middle", "color": "#111"},
   "encoding": {"x": {"field": "v", "type": "quantitative", "scale": {"domain": [10, 20], "range": [306, 552], "nice": false, "zero": false}, "axis": null}, "text": {"field": "label"}}},
  {"data": {"name": "letC"}, "mark": {"type": "text", "font": "DejaVu Serif", "fontSize": 24, "fontWeight": "bold", "align": "center", "baseline": "middle", "color": "#111"},
   "encoding": {"x": {"field": "v", "type": "quantitative", "scale": {"domain": [0, 1600], "range": [564, 835], "nice": false, "zero": false}, "axis": null}, "text": {"field": "label"}}},
  {"data": {"name": "letD"}, "mark": {"type": "text", "font": "DejaVu Serif", "fontSize": 24, "fontWeight": "bold", "align": "center", "baseline": "middle", "color": "#111"},
   "encoding": {"x": {"field": "v", "type": "quantitative", "scale": {"domain": [10, 18], "range": [802, 1039], "nice": false, "zero": false}, "axis": null}, "text": {"field": "label"}}},
  {"data": {"name": "letE"}, "mark": {"type": "text", "font": "DejaVu Serif", "fontSize": 24, "fontWeight": "bold", "align": "center", "baseline": "middle", "color": "#111"},
   "encoding": {"x": {"field": "v", "type": "quantitative", "scale": {"domain": [29, 30.2], "range": [987, 1257], "nice": false, "zero": false}, "axis": null}, "text": {"field": "label"}}},
  {"data": {"name": "letF"}, "mark": {"type": "text", "font": "DejaVu Serif", "fontSize": 24, "fontWeight": "bold", "align": "center", "baseline": "middle", "color": "#111"},
   "encoding": {"x": {"field": "v", "type": "quantitative", "scale": {"domain": [14, 28], "range": [1246, 1568], "nice": false, "zero": false}, "axis": null}, "text": {"field": "label"}}},
  {"data": {"name": "letG"}, "mark": {"type": "text", "font": "DejaVu Serif", "fontSize": 24, "fontWeight": "bold", "align": "center", "baseline": "middle", "color": "#111"},
   "encoding": {"x": {"field": "v", "type": "quantitative", "scale": {"domain": [-5, -11], "range": [1536, 1860], "nice": false, "zero": false}, "axis": null}, "text": {"field": "label"}}},
  {"data": {"name": "goldTxt"}, "mark": {"type": "text", "font": "DejaVu Serif", "fontSize": 19, "align": "center", "baseline": "top", "lineBreak": "\n", "lineHeight": 28, "color": "#000", "stroke": "#000", "strokeWidth": 0.4},
   "encoding": {"x": {"field": "v", "type": "quantitative", "scale": {"domain": [-5, -11], "range": [1536, 1860], "nice": false, "zero": false}, "axis": null}, "text": {"field": "label"}}}
]
}
